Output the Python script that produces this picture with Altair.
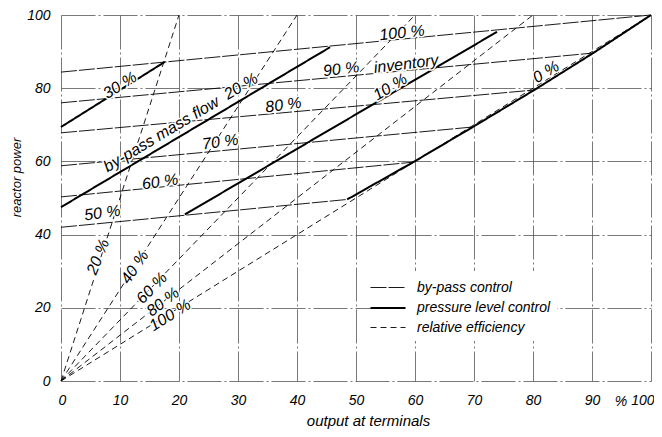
import altair as alt
import pandas as pd

# ---- pressure level control (by-pass mass flow) ----
p30_x = [0, 17.6]
p30_y = [69.4, 87.2]
p20_x = [0, 45.6]
p20_y = [47.5, 91.2]
p10_x = [21, 73.9]
p10_y = [45.5, 95.4]
p0_x = [48.5, 59.7, 69.8, 80.2, 90.2, 100]
p0_y = [49.6, 59.8, 69.4, 79.5, 89.6, 100]

# ---- by-pass control (inventory) ----
inv100_x = [0, 100]
inv100_y = [84.4, 100]
inv90_x = [0, 90.2]
inv90_y = [76.0, 89.6]
inv80_x = [0, 80.2]
inv80_y = [67.8, 79.5]
inv70_x = [0, 69.8]
inv70_y = [58.8, 69.4]
inv60_x = [0, 59.7]
inv60_y = [50.3, 59.8]
inv50_x = [0, 48.5]
inv50_y = [42.0, 49.6]

# ---- relative efficiency ----
eff20_x = [0, 20]
eff40_x = [0, 40]
eff60_x = [0, 60]
eff80_x = [0, 80]
eff100_x = [0, 100]
eff_y = [0, 100]

types = ["by-pass control", "pressure level control", "relative efficiency"]

series = [
    ("p30", types[1], p30_x, p30_y),
    ("p20", types[1], p20_x, p20_y),
    ("p10", types[1], p10_x, p10_y),
    ("p0", types[1], p0_x, p0_y),
    ("i100", types[0], inv100_x, inv100_y),
    ("i90", types[0], inv90_x, inv90_y),
    ("i80", types[0], inv80_x, inv80_y),
    ("i70", types[0], inv70_x, inv70_y),
    ("i60", types[0], inv60_x, inv60_y),
    ("i50", types[0], inv50_x, inv50_y),
    ("e20", types[2], eff20_x, eff_y),
    ("e40", types[2], eff40_x, eff_y),
    ("e60", types[2], eff60_x, eff_y),
    ("e80", types[2], eff80_x, eff_y),
    ("e100", types[2], eff100_x, eff_y),
]

rows = []
for name, t, xs, ys in series:
    for i, (xv, yv) in enumerate(zip(xs, ys)):
        rows.append({"line": name, "type": t, "x": xv, "y": yv, "i": i})
df = pd.DataFrame(rows)

# ---- labels on the chart ----
lab_text = ["30 %", "by-pass mass flow\u00a0\u00a020 %", "10 %", "0 %",
            "100 %", "90 %", "inventory", "80 %", "70 %", "60 %", "50 %",
            "20 %", "40 %", "60 %", "80 %", "100 %"]
lab_x = [10.0, 20.3, 55.8, 82.2, 57.8, 47.5, 58.5, 37.7, 27.0, 16.8, 7.0,
         6.3, 12.5, 15.4, 17.3, 18.5]
lab_y = [80.8, 70.6, 80.3, 84.4, 95.1, 85.2, 86.6, 75.4, 65.3, 54.4, 45.9,
         33.9, 31.1, 25.4, 21.6, 18.0]
lab_angle = [328, 329, 329, 329, 354, 353, 353, 352, 352, 352, 352,
             292, 304, 314, 322, 328]
labels = pd.DataFrame({"text": lab_text, "x": lab_x, "y": lab_y, "angle": lab_angle})

pct = pd.DataFrame({"text": ["%"], "x": [94.9], "y": [0]})

FONT = "Liberation Sans"

xscale = alt.Scale(domain=[0, 100], nice=False, zero=False)
yscale = alt.Scale(domain=[0, 100], nice=False, zero=False)
ticks = list(range(0, 101, 10))

xaxis = alt.Axis(values=ticks, title="output at terminals", grid=True, ticks=False,
                 domain=False, labelPadding=12, labelFlush=True, labelFlushOffset=3,
                 titleX=307, titleY=39, titleBaseline="middle", titleAnchor="middle",
                 titleFontSize=15)
yaxis = alt.Axis(values=ticks, title="reactor power", grid=True, ticks=False,
                 domain=False, labelPadding=11, labelFlush=False,
                 labelExpr="datum.value == 90 ? '%' : (datum.value % 20 == 0 ? datum.label : '')",
                 titleX=-45, titleY=162, titleBaseline="middle", titleAnchor="middle",
                 titleFontSize=13)

leg = alt.Legend(title=None, orient="none", legendX=310, legendY=256)

lines = alt.Chart(df).mark_line(color="black").encode(
    x=alt.X("x:Q", scale=xscale, axis=xaxis),
    y=alt.Y("y:Q", scale=yscale, axis=yaxis),
    detail="line:N",
    order="i:Q",
    strokeDash=alt.StrokeDash("type:N", scale=alt.Scale(type="ordinal", domain=types,
                                                        range=[[16, 2], [1, 0], [6, 4]]), legend=leg),
    strokeWidth=alt.StrokeWidth("type:N", scale=alt.Scale(type="ordinal", domain=types,
                                                          range=[0.9, 2.0, 0.9]), legend=leg),
)

halo = alt.Chart(labels).mark_text(font=FONT, fontSize=16, fontStyle="italic",
                                   stroke="white", strokeWidth=3, color="white").encode(
    x="x:Q", y="y:Q", text="text:N", angle=alt.Angle("angle:Q", scale=None))
txt = alt.Chart(labels).mark_text(font=FONT, fontSize=16, fontStyle="italic", color="black").encode(
    x="x:Q", y="y:Q", text="text:N", angle=alt.Angle("angle:Q", scale=None))

pct_txt = alt.Chart(pct).mark_text(font=FONT, fontSize=14, fontStyle="italic", color="black",
                                   dy=21, baseline="middle").encode(
    x="x:Q", y="y:Q", text="text:N")

chart = alt.layer(lines, halo, txt, pct_txt).properties(
    width=590, height=366,
    autosize=alt.AutoSizeParams(type="none"),
    padding={"left": 53, "top": 7, "right": 3, "bottom": 48},
).configure_view(stroke=None).configure_axis(
    labelFont=FONT, labelFontSize=14, labelFontStyle="italic", labelColor="black",
    titleFont=FONT, titleFontSize=14, titleFontStyle="italic", titleFontWeight="normal",
    titleColor="black", gridColor="#555555", gridWidth=0.8, gridDash=[34, 3, 2, 3],
).configure_legend(
    labelFont=FONT, labelFontSize=14, labelFontStyle="italic", labelColor="black",
    symbolType="M-1.75,0H1.75", symbolSize=400, symbolStrokeColor="black", labelOffset=18,
    fillColor="white", padding=6, rowPadding=2,
)

chart.save("out.html", embed_options={"renderer": "svg", "actions": False})
